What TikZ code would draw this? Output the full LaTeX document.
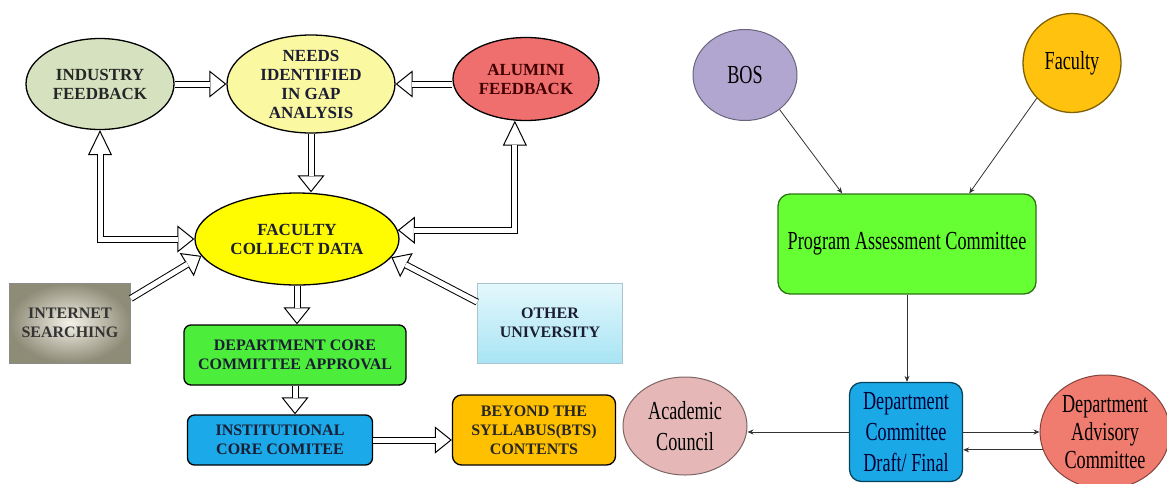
\documentclass[tikz,border=0pt]{standalone}
\usepackage{fontspec}
\setmainfont{Liberation Serif}
\newfontfamily\narrowfont[FakeStretch=0.7]{Liberation Serif}
\usepackage{tikz}
\usetikzlibrary{arrows.meta,calc,shapes.geometric}
\definecolor{indGreen}{HTML}{D6E2BF}
\definecolor{gapYellow}{HTML}{FBF8A2}
\definecolor{alumRed}{HTML}{EF6F6F}
\definecolor{facYellow}{HTML}{FFFB00}
\definecolor{netLight}{HTML}{F4F2E8}
\definecolor{netDark}{HTML}{8E8B77}
\definecolor{uniTop}{HTML}{E4F8FC}
\definecolor{uniBot}{HTML}{A8E4F4}
\definecolor{coreGreen}{HTML}{4DEE3B}
\definecolor{instBlue}{HTML}{1BA9E9}
\definecolor{btsOrange}{HTML}{FFC000}
\definecolor{bosPurple}{HTML}{B0A6CF}
\definecolor{facuOrange}{HTML}{FFC20E}
\definecolor{pacGreen}{HTML}{66FF33}
\definecolor{deptBlue}{HTML}{1AA8E6}
\definecolor{acadPink}{HTML}{E5B8B7}
\definecolor{advRed}{HTML}{F07C70}
\definecolor{inkDark}{HTML}{1B1E33}

\begin{document}
\begin{tikzpicture}[x=1pt,y=-1pt,
  oval/.style={ellipse,draw,line width=1.3pt,inner sep=0pt,align=center,text=inkDark,
    font=\fontsize{17}{19}\selectfont\bfseries},
  panel/.style={rectangle,draw,line width=1.3pt,inner sep=0pt,align=center,text=inkDark,
    font=\fontsize{16}{19}\selectfont\bfseries},
  shaft/.style={draw=black,line width=1pt,double=white,double distance=5pt},
  head/.style={line width=1pt,-{Triangle[fill=white,length=17pt,width=27pt]}},
  headlong/.style={line width=1pt,-{Triangle[fill=white,length=25pt,width=24pt]}},
  rnode/.style={draw,line width=1pt,inner sep=0pt,align=center,
    font=\narrowfont\fontsize{26}{31}\selectfont},
  link/.style={line width=0.8pt,draw=black!80,-{Stealth[length=6pt,width=5pt]}}]
  \useasboundingbox (0,0) rectangle (1167,483);

  % left chart
  \node[oval,fill=indGreen,minimum width=148pt,minimum height=91pt,text=black!85] (ind) at (100,84) {INDUSTRY\\FEEDBACK};
  \node[oval,fill=gapYellow,minimum width=168pt,minimum height=98pt] (needs) at (311,84) {NEEDS\\IDENTIFIED\\IN GAP\\ANALYSIS};
  \node[oval,fill=alumRed,minimum width=146pt,minimum height=83pt,text=black!75!red] (alum) at (526,79) {ALUMINI\\FEEDBACK};
  \node[oval,fill=facYellow,minimum width=204pt,minimum height=92pt] (fac) at (297,239) {FACULTY\\COLLECT DATA};
  \node[panel,line width=0.6pt,draw=black!45,inner color=netLight,outer color=netDark,
    minimum width=121pt,minimum height=80pt,text=black!80] (inet) at (70,323) {INTERNET\\SEARCHING};
  \node[panel,line width=0.6pt,draw=cyan!30!gray!60,top color=uniTop,bottom color=uniBot,
    minimum width=145pt,minimum height=80pt] (other) at (550,323) {OTHER\\UNIVERSITY};
  \node[panel,rounded corners=7pt,fill=coreGreen,minimum width=222pt,minimum height=60pt] (core) at (295,355) {DEPARTMENT CORE\\COMMITTEE APPROVAL};
  \node[panel,rounded corners=7pt,fill=instBlue,minimum width=185pt,minimum height=50pt] (inst) at (280,440) {INSTITUTIONAL\\CORE COMITEE};
  \node[panel,rounded corners=9pt,fill=btsOrange,minimum width=163pt,minimum height=70pt,text=black!85] (bts) at (534,430) {BEYOND THE\\SYLLABUS(BTS)\\CONTENTS};

  \coordinate (an) at (needs.east -| alum.west);
  \coordinate (nf) at (needs.south |- fac.north);
  \coordinate (fc) at (fac.south |- core.north);
  \coordinate (ci) at (core.south |- inst.north);
  \coordinate (ib) at (inst.east -| bts.west);
  \foreach \a/\b in {ind.east/needs.west, an/needs.east, needs.south/nf,
      inet.22/fac.190, other.164/fac.349, fac.south/fc, core.south/ci, inst.east/ib} {
    \draw[head] ($(\b)!18pt!(\a)$) -- (\b);
    \draw[shaft] (\a) -- ($(\b)!16pt!(\a)$);
  }
  % two-headed elbows
  \coordinate (ic) at (ind.south |- fac.west);
  \coordinate (ac) at (alum.255 |- fac.5);
  \foreach \a/\c/\b in {ind.south/ic/fac.west, alum.255/ac/fac.5} {
    \draw[headlong] ($(\a)!26pt!(\c)$) -- (\a);
    \draw[head] ($(\b)!18pt!(\c)$) -- (\b);
    \draw[shaft] ($(\a)!24pt!(\c)$) -- (\c) -- ($(\b)!16pt!(\c)$);
  }

  % right chart
  \node[rnode,ellipse,fill=bosPurple,draw=bosPurple!60!black,minimum width=104pt,minimum height=91pt] (bos) at (745,75) {BOS};
  \node[rnode,ellipse,fill=facuOrange,draw=facuOrange!50!black,line width=1.3pt,minimum width=98pt,minimum height=99pt] (facu) at (1072,63) {Faculty};
  \node[rnode,rectangle,rounded corners=12pt,fill=pacGreen,draw=pacGreen!45!black,line width=1.3pt,
    minimum width=258pt,minimum height=100pt,font=\narrowfont\fontsize{26}{31}\selectfont] (pac) at (907,244) {Program Assessment Committee};
  \node[rnode,rectangle,rounded corners=12pt,fill=deptBlue,draw=deptBlue!40!black,line width=1.3pt,
    minimum width=113pt,minimum height=99pt,text=blue!20!black] (dept) at (906,432) {Department\\Committee\\Draft/ Final};
  \node[rnode,ellipse,fill=acadPink,draw=acadPink!55!black,minimum width=124pt,minimum height=98pt] (acad) at (685,426) {Academic\\Council};
  \node[rnode,ellipse,fill=advRed,draw=advRed!55!black,minimum width=130pt,minimum height=114pt,
    font=\narrowfont\fontsize{26}{28}\selectfont] (adv) at (1105,432) {Department\\Advisory\\Committee};

  \draw[link] (bos.315) -- ($(pac.north west)!0.25!(pac.north east)$);
  \draw[link] (facu.225) -- ($(pac.north west)!0.74!(pac.north east)$);
  \draw[link] (pac.south) -- (pac.south |- dept.north);
  \draw[link] (dept.west) -- (dept.west -| acad.east);
  \draw[link] (dept.east) -- (dept.east -| adv.west);
  \draw[link] (adv.196) -- (adv.196 -| dept.east);
\end{tikzpicture}
\end{document}
